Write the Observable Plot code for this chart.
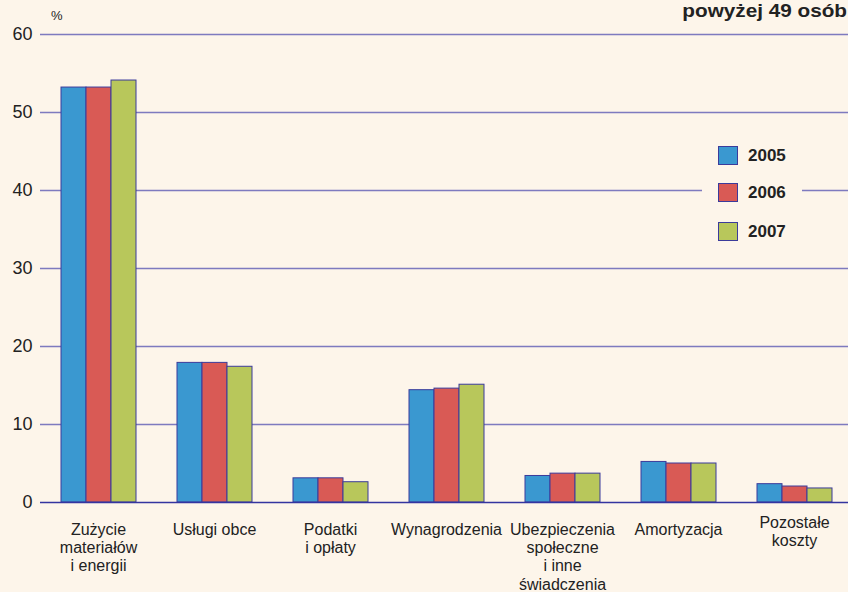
<!DOCTYPE html>
<html><head><meta charset="utf-8">
<script src="https://cdn.jsdelivr.net/npm/d3@7"></script>
<script src="https://cdn.jsdelivr.net/npm/@observablehq/plot@0.6"></script>
<style>
html,body{margin:0;padding:0;background:#fdf5ea;}
#wrap{position:relative;width:848px;height:592px;overflow:hidden;font-family:"Liberation Sans",Arial,sans-serif;color:#222;background:#fdf5ea;}
#wrap svg{display:block;position:absolute;left:0;top:0;}
#title{position:absolute;right:1px;top:0px;font-weight:bold;font-size:18.5px;white-space:nowrap;transform:scaleX(1.12);transform-origin:right center;}
#unit{position:absolute;left:51px;top:8px;font-size:13px;}
#legend{position:absolute;left:702px;top:140px;width:100px;height:108px;background:#fdf5ea;}
.lg-sq{position:absolute;left:16px;width:20px;height:19px;border:1px solid #3b3b9b;box-sizing:border-box;}
.lg-tx{position:absolute;left:46px;font-weight:bold;font-size:17px;line-height:20px;}
</style></head><body>
<div id="wrap"><div id="title">powyżej 49 osób</div><div id="unit">%</div><div id="legend"></div></div>
<script>
const categories = ["Zużycie\nmateriałów\ni energii", "Usługi obce", "Podatki\ni opłaty", "Wynagrodzenia", "Ubezpieczenia\nspołeczne\ni inne\nświadczenia", "Amortyzacja", "Pozostałe\nkoszty"];
const years = ["2005", "2006", "2007"];
const v2005 = [53.2, 17.9, 3.1, 14.4, 3.4, 5.2, 2.35];
const v2006 = [53.2, 17.9, 3.1, 14.6, 3.7, 5.0, 2.05];
const v2007 = [54.1, 17.4, 2.6, 15.1, 3.7, 5.0, 1.8];
const colors = ["#3a98d0", "#d95a55", "#b8c75b"];
const yTicks = [0, 10, 20, 30, 40, 50, 60];

const series = [v2005, v2006, v2007];
const data = categories.flatMap((c, i) => years.map((y, j) => ({category: c, year: y, value: series[j][i]})));
const isRaised = c => c.startsWith("Pozostałe");

const chart = Plot.plot({
  width: 848, height: 592,
  marginTop: 34, marginBottom: 90, marginLeft: 39, marginRight: 0,
  style: {background: "transparent", fontFamily: "Liberation Sans, Arial, sans-serif", fontSize: "18px", color: "#222", overflow: "visible"},
  fx: {domain: categories, range: [38, 854], paddingInner: 0, paddingOuter: 0, axis: null},
  x: {domain: years, paddingInner: 0, paddingOuter: 0.75, axis: null},
  y: {domain: [0, 60], ticks: yTicks, tickSize: 0, tickPadding: 8, label: null},
  color: {domain: years, range: colors},
  marks: [
    Plot.ruleY(yTicks.filter(t => t > 0), {stroke: "#7e7abf", strokeWidth: 1.5}),
    Plot.barY(data, {fx: "category", x: "year", y: "value", fill: "year", stroke: "#3b3b9b", strokeWidth: 1}),
    Plot.ruleY([0], {stroke: "#3434a0", strokeWidth: 1.5}),
    Plot.text(categories.filter(c => !isRaised(c)), {fx: d => d, text: d => d, frameAnchor: "bottom", lineAnchor: "top", dy: 20, fontSize: 16, lineHeight: 1.13, fill: "#222"}),
    Plot.text(categories.filter(isRaised), {fx: d => d, text: d => d, frameAnchor: "bottom", lineAnchor: "top", dy: 13, fontSize: 16, lineHeight: 1.13, fill: "#222"})
  ]
});
const wrap = document.getElementById("wrap");
wrap.insertBefore(chart, wrap.firstChild);

const legend = document.getElementById("legend");
const rowTops = [6, 43, 82];
years.forEach((y, i) => {
  const sq = document.createElement("div");
  sq.className = "lg-sq"; sq.style.top = rowTops[i] + "px"; sq.style.background = colors[i];
  const tx = document.createElement("div");
  tx.className = "lg-tx"; tx.style.top = rowTops[i] + "px"; tx.textContent = y;
  legend.appendChild(sq); legend.appendChild(tx);
});
</script>
</body></html>
